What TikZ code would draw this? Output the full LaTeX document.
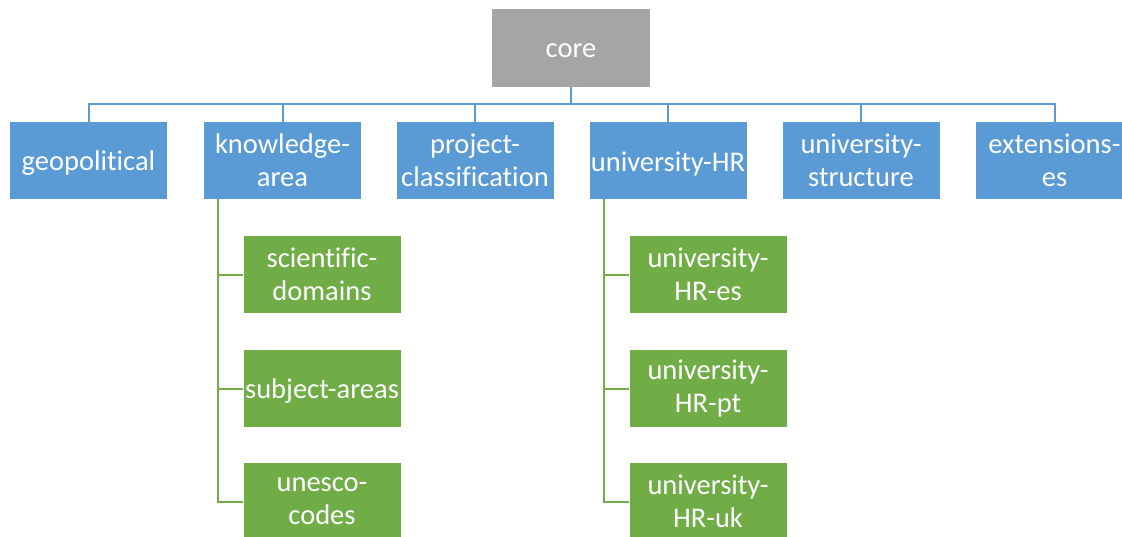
\documentclass[tikz,border=0pt]{standalone}
\usepackage{fontspec}
\setmainfont[Ligatures={NoCommon}]{Carlito}
\usetikzlibrary{positioning}

\definecolor{coregray}{HTML}{A5A5A5}
\definecolor{topblue}{HTML}{5B9BD5}
\definecolor{subgreen}{HTML}{70AD47}

\newcommand{\oneline}[1]{\raisebox{-3pt}[\height][\depth]{#1}}

\tikzset{
  orgbox/.style={rectangle, minimum width=157pt, minimum height=77pt,
    inner sep=0pt, align=center, text=white,
    font=\fontsize{28.5}{33}\selectfont},
  corebox/.style={orgbox, fill=coregray, minimum width=158pt, minimum height=78pt},
  topbox/.style={orgbox, fill=topblue},
  subbox/.style={orgbox, fill=subgreen},
  blueline/.style={draw=topblue, line width=2pt},
  greenline/.style={draw=subgreen, line width=2pt}
}

\begin{document}
\begin{tikzpicture}[x=1pt, y=-1pt]
    \useasboundingbox (0,0) rectangle (1122,536);
    \clip (0,0) rectangle (1122,536);
    % ----------------
    % the root and bus
    % ----------------
    \node[corebox] (core) at (571,48) {\oneline{core}};
    \coordinate (bus) at (571,104);
    % -------------
    % the first row
    % -------------
    \foreach \name/\x/\txt in {geo/88.5/\oneline{geopolitical}, ka/282.5/{knowledge-\\area},
        pc/475/{project-\\classification}, uhr/668/\oneline{university-HR},
        us/861/{university-\\structure}, ext/1054.5/{extensions-\\es}}{
      \node[topbox] (\name) at (\x,160.5) {\txt};
    }
    \draw[blueline] (core.south) -- (bus);
    \foreach \name in {geo,ka,pc,uhr,us,ext}{
      \draw[blueline] (bus) -| (\name.north);
    }
    % ----------------------
    % the two green branches
    % ----------------------
    \coordinate (kastem) at (218,199);
    \coordinate (uhrstem) at (604,199);
    \foreach \name/\y/\txt in {sd/274.5/{scientific-\\domains},
        sa/388.5/\oneline{subject-areas}, uc/501.5/{unesco-\\codes}}{
      \node[subbox] (\name) at (322,\y) {\txt};
      \draw[greenline] (kastem) |- (\name.west);
    }
    \foreach \name/\y/\txt in {es/274.5/{university-\\HR-es},
        pt/388.5/{university-\\HR-pt}, uk/501.5/{university-\\HR-uk}}{
      \node[subbox] (\name) at (708,\y) {\txt};
      \draw[greenline] (uhrstem) |- (\name.west);
    }
\end{tikzpicture}
\end{document}
